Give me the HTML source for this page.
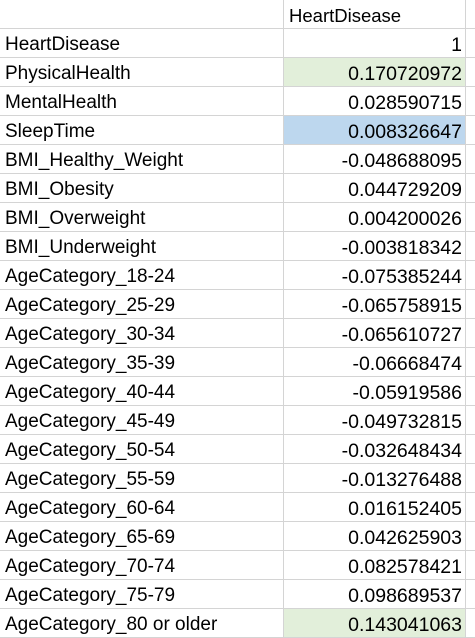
<!DOCTYPE html>
<html><head><meta charset="utf-8"><style>
body{margin:0;width:475px;height:629px;overflow:hidden;background:#fff;font-family:"Liberation Sans",sans-serif;}
table{border-collapse:collapse;table-layout:fixed;position:absolute;left:-1px;top:-1px;width:490px;}
td{height:29px;border:1px solid #d4d4d4;font-size:19px;color:#000;padding:0 3px 1px 5px;white-space:nowrap;overflow:hidden;line-height:22px;vertical-align:bottom;box-sizing:border-box;}
td.b{text-align:right;font-size:19.5px;}
td.c{border-right:none;}
tr.h td.b{text-align:left;font-size:18.5px;}
.g{background:#e2efda;}
.bl{background:#bdd7ee;}
</style></head><body>
<table><colgroup><col style="width:284px"><col style="width:182px"><col style="width:24px"></colgroup><tbody id="tb">
<tr class="h"><td class="a"></td><td class="b">HeartDisease</td><td class="c"></td></tr>
</tbody></table>
<script>
const labels=["HeartDisease","PhysicalHealth","MentalHealth","SleepTime","BMI_Healthy_Weight","BMI_Obesity","BMI_Overweight","BMI_Underweight","AgeCategory_18-24","AgeCategory_25-29","AgeCategory_30-34","AgeCategory_35-39","AgeCategory_40-44","AgeCategory_45-49","AgeCategory_50-54","AgeCategory_55-59","AgeCategory_60-64","AgeCategory_65-69","AgeCategory_70-74","AgeCategory_75-79","AgeCategory_80 or older"];
const values=["1","0.170720972","0.028590715","0.008326647","-0.048688095","0.044729209","0.004200026","-0.003818342","-0.075385244","-0.065758915","-0.065610727","-0.06668474","-0.05919586","-0.049732815","-0.032648434","-0.013276488","0.016152405","0.042625903","0.082578421","0.098689537","0.143041063"];
const fills={1:"g",3:"bl",20:"g"};
const tb=document.getElementById('tb');
labels.forEach((l,i)=>{
  const tr=document.createElement('tr');
  
  
  const a=document.createElement('td');a.className='a';a.textContent=l;
  
  
  const b=document.createElement('td');b.className='b'+(fills[i]?' '+fills[i]:'');b.textContent=values[i];
  
  
  const c=document.createElement('td');c.className='c';
  tr.append(a,b,c);tb.appendChild(tr);
});
</script>
</body></html>
